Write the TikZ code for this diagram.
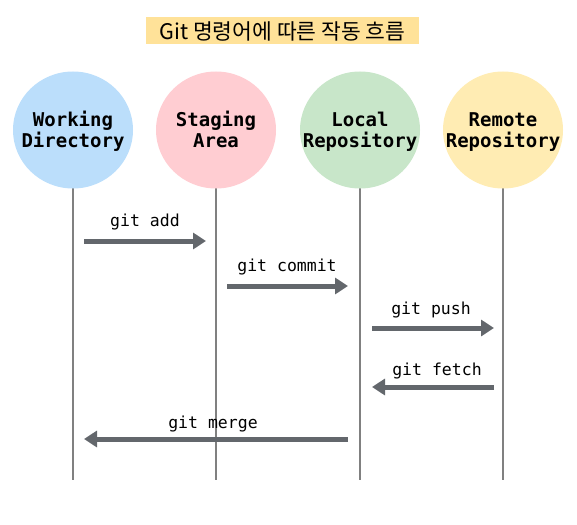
\documentclass[tikz,border=0pt]{standalone}
\usepackage{fontspec}
\newfontfamily\krfont{Noto Sans CJK KR}
\newfontfamily\monofont{DejaVu Sans Mono}
\usetikzlibrary{arrows.meta,shapes.geometric}
\definecolor{cblue}{HTML}{BBDEFB}
\definecolor{cpink}{HTML}{FFCDD2}
\definecolor{cgreen}{HTML}{C8E6C9}
\definecolor{cyellow}{HTML}{FFECB3}
\definecolor{titlebg}{HTML}{FFE299}
\definecolor{lifeline}{HTML}{808080}
\definecolor{arrowc}{HTML}{63676C}
\newcommand{\actortext}[1]{\makebox[0pt][c]{\begin{tabular}[t]{@{}c@{}}#1\end{tabular}}}
\tikzset{
  actor/.style={ellipse, minimum width=120pt, minimum height=117pt, inner sep=0pt,
    text height=10pt, text depth=18pt,
    font=\monofont\bfseries\fontsize{19}{21.5}\selectfont},
  life/.style={draw=lifeline, line width=2pt},
  msg/.style={draw=arrowc, line width=5pt, -{Triangle[width=16pt,length=13pt]}},
  msglabel/.style={font=\monofont\fontsize{16.5}{19}\selectfont, inner sep=0pt}
}
\begin{document}
\begin{tikzpicture}[x=1pt,y=-1pt]
\useasboundingbox (0,0) rectangle (577,524);
\node[fill=titlebg, minimum width=273pt, minimum height=27pt, inner sep=0pt,
  font=\krfont\fontsize{21.5}{24}\selectfont] (title) at (282.5,31) {Git 명령어에 따른 작동 흐름};
% lifeline ends
\coordinate (wdE) at (73,480);
\coordinate (saE) at (216,480);
\coordinate (lrE) at (360,480);
\coordinate (rrE) at (503,480);
\draw[life] (73,130) -- (wdE);
\draw[life] (216,130) -- (saE);
\draw[life] (360,130) -- (lrE);
\draw[life] (503,130) -- (rrE);
\node[actor, fill=cblue] (wd) at (73,130) {\actortext{Working\\Directory}};
\node[actor, fill=cpink] (sa) at (216,130) {\actortext{Staging\\Area}};
\node[actor, fill=cgreen] (lr) at (360,130) {\actortext{Local\\Repository}};
\node[actor, fill=cyellow] (rr) at (503,130) {\actortext{Remote\\Repository}};
% messages
\coordinate (a1) at (84,241); \coordinate (a2) at (206,241);
\coordinate (c1) at (227,286); \coordinate (c2) at (348,286);
\coordinate (p1) at (372,328); \coordinate (p2) at (494,328);
\coordinate (f1) at (494,387); \coordinate (f2) at (372,387);
\coordinate (m1) at (348,439); \coordinate (m2) at (84,439);
\draw[msg] (a1) -- (a2);
\draw[msg] (c1) -- (c2);
\draw[msg] (p1) -- (p2);
\draw[msg] (f1) -- (f2);
\draw[msg] (m1) -- (m2);
\node[msglabel] (ladd) at (145,222.5) {git add};
\node[msglabel] (lcommit) at (287,267.5) {git commit};
\node[msglabel] (lpush) at (431,309.5) {git push};
\node[msglabel] (lfetch) at (437,370.5) {git fetch};
\node[msglabel] (lmerge) at (213,423.5) {git merge};
\end{tikzpicture}
\end{document}
